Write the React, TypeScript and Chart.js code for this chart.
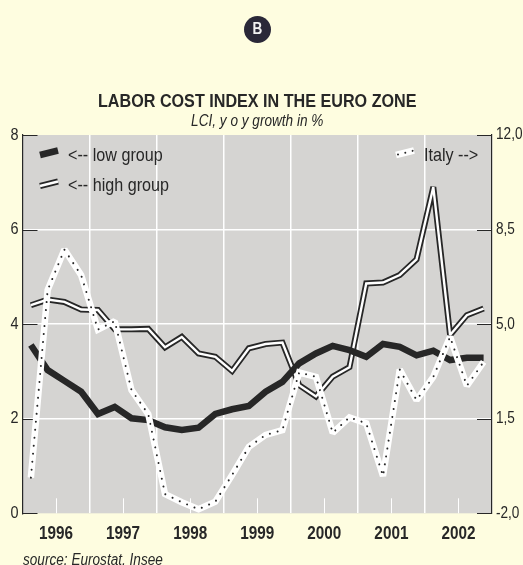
import React, { useEffect, useRef } from "react";
import { Chart, registerables } from "chart.js";

Chart.register(...registerables);

const quarters = ["96Q1","96Q2","96Q3","96Q4","97Q1","97Q2","97Q3","97Q4","98Q1","98Q2","98Q3","98Q4","99Q1","99Q2","99Q3","99Q4","00Q1","00Q2","00Q3","00Q4","01Q1","01Q2","01Q3","01Q4","02Q1","02Q2","02Q3","02Q4"];
const years = ["1996","1997","1998","1999","2000","2001","2002"];
const lowGroup = [3.56,3.03,2.80,2.57,2.10,2.25,2.01,1.97,1.82,1.76,1.81,2.10,2.20,2.27,2.57,2.78,3.17,3.38,3.54,3.45,3.31,3.58,3.52,3.34,3.44,3.24,3.29,3.29];
const highGroup = [4.40,4.52,4.47,4.31,4.30,3.89,3.89,3.90,3.51,3.73,3.38,3.31,3.01,3.49,3.58,3.61,2.71,2.47,2.89,3.09,4.86,4.88,5.04,5.37,6.90,3.77,4.19,4.33];
const italy = [-0.68,6.26,7.76,6.81,4.80,5.11,2.56,1.67,-1.29,-1.59,-1.85,-1.57,-0.58,0.46,0.90,1.08,3.21,3.05,0.98,1.55,1.33,-0.62,3.32,2.19,3.05,4.53,2.72,3.60];

const NARROW = '"Liberation Sans", Arial, sans-serif';
const TEXT_SQUEEZE = 0.85;
const DARK = "#272727";
const BG = "#FEFDE0";
const PLOT = "#D5D4D2";

// The reference is set in a condensed face that is not installed: squeeze all text horizontally.
function condense(ctx: any) {
  if (ctx.__condensed) return;
  ctx.__condensed = true;
  const orig = ctx.fillText.bind(ctx);
  ctx.fillText = (t: string, x: number, y: number, maxWidth?: number) => {
    ctx.save();
    ctx.translate(x, y);
    ctx.scale(TEXT_SQUEEZE, 1);
    if (maxWidth === undefined) orig(t, 0, 0);
    else orig(t, 0, 0, maxWidth / TEXT_SQUEEZE);
    ctx.restore();
  };
}

const decor = {
  id: "decor",
  beforeDraw(chart: any) {
    const { ctx, chartArea: a } = chart;
    ctx.miterLimit = 1.6;
    ctx.save();
    ctx.fillStyle = PLOT;
    ctx.fillRect(a.left, a.top, a.right - a.left, a.bottom - a.top);
    ctx.restore();
  },
  beforeDatasetsDraw(chart: any) {
    const { ctx, chartArea: a, scales } = chart;
    ctx.save();
    ctx.strokeStyle = "#FFFFFF";
    ctx.lineWidth = 1;
    years.forEach((_, i) => {
      const x = Math.round(scales.xYears.getPixelForTick(i)) + 0.5;
      ctx.beginPath();
      ctx.moveTo(x, a.bottom - 15);
      ctx.lineTo(x, a.bottom);
      ctx.stroke();
    });
    ctx.strokeStyle = DARK;
    ctx.lineWidth = 1;
    scales.yL.ticks.forEach((t: any) => {
      const y = Math.round(scales.yL.getPixelForValue(t.value)) + 0.5;
      ctx.beginPath();
      ctx.moveTo(a.left, y);
      ctx.lineTo(a.left + 15, y);
      ctx.stroke();
    });
    scales.yR.ticks.forEach((t: any) => {
      const y = Math.round(scales.yR.getPixelForValue(t.value)) + 0.5;
      ctx.beginPath();
      ctx.moveTo(a.right - 15, y);
      ctx.lineTo(a.right, y);
      ctx.stroke();
    });
    ctx.restore();
  },
  afterDraw(chart: any) {
    const { ctx } = chart;
    ctx.save();
    // badge
    ctx.fillStyle = "#2A2838";
    ctx.beginPath();
    ctx.arc(257.5, 29.5, 13.5, 0, Math.PI * 2);
    ctx.fill();
    ctx.fillStyle = "#F2F2F2";
    ctx.font = `bold 16px "Liberation Sans", Arial, sans-serif`;
    ctx.textAlign = "center";
    ctx.textBaseline = "middle";
    ctx.fillText("B", 257.5, 30);

    // legend swatches
    const seg = (x0: number, y0: number, x1: number, y1: number, color: string, w: number, dash?: number[], cap: CanvasLineCap = "butt") => {
      ctx.strokeStyle = color;
      ctx.lineWidth = w;
      ctx.setLineDash(dash || []);
      ctx.lineCap = cap;
      ctx.beginPath();
      ctx.moveTo(x0, y0);
      ctx.lineTo(x1, y1);
      ctx.stroke();
      ctx.setLineDash([]);
    };
    seg(40, 155, 58, 150.5, DARK, 6.5);
    seg(40, 186, 58, 181.5, DARK, 6);
    seg(40, 186, 58, 181.5, "#FFFFFF", 2.4);
    seg(396, 155, 414, 150.5, "#FFFFFF", 6.5);
    seg(398, 154.5, 414, 150.5, DARK, 2, [0.01, 7.5], "round");

    // legend text
    ctx.fillStyle = DARK;
    ctx.textAlign = "left";
    ctx.textBaseline = "alphabetic";
    ctx.font = `19px ${NARROW}`;
    ctx.fillText("<-- low group", 68, 161);
    ctx.fillText("<-- high group", 68, 191);
    ctx.fillText("Italy -->", 424, 161);

    // source
    ctx.font = `italic 16px ${NARROW}`;
    ctx.fillText("source: Eurostat, Insee", 23, 565);
    ctx.restore();
  },
};

export default function App() {
  const ref = useRef<HTMLCanvasElement | null>(null);
  useEffect(() => {
    if (!ref.current) return;
    condense(ref.current.getContext("2d"));
    const line = (label: string, data: number[], yAxisID: string, color: string, width: number, dash?: number[], order = 0, cap: string = "butt") => ({
      label, data, yAxisID, xAxisID: "x",
      borderColor: color, borderWidth: width, borderDash: dash || [],
      borderJoinStyle: "miter" as const, borderCapStyle: cap,
      pointRadius: 0, tension: 0, fill: false, order,
    });
    const chart = new Chart(ref.current, {
      type: "line",
      data: {
        labels: quarters,
        datasets: [
          line("Italy", italy, "yR", DARK, 2, [0.01, 8], 1, "round"),
          line("Italy halo", italy, "yR", "#FFFFFF", 6.5, undefined, 2),
          line("low group", lowGroup, "yL", DARK, 6.5, undefined, 3),
          line("high group core", highGroup, "yL", "#FFFFFF", 2.4, undefined, 4),
          line("high group", highGroup, "yL", DARK, 6, undefined, 5),
        ],
      },
      plugins: [decor],
      options: {
        responsive: false,
        animation: false,
        maintainAspectRatio: false,
        layout: { padding: 0 },
        plugins: {
          legend: { display: false },
          tooltip: { enabled: false },
          title: {
            display: true,
            text: "LABOR COST INDEX IN THE EURO ZONE",
            color: DARK,
            fullSize: false,
            font: { family: NARROW, size: 19, weight: "bold", lineHeight: 1 },
            padding: { top: 92, bottom: 3 },
          },
          subtitle: {
            display: true,
            text: "LCI, y o y growth in %",
            color: DARK,
            fullSize: false,
            font: { family: NARROW, size: 16, style: "italic", lineHeight: 1 },
            padding: { top: 0, bottom: 5 },
          },
        },
        scales: {
          x: { type: "category", display: false, offset: true, grid: { display: false } },
          xYears: {
            type: "category",
            labels: years,
            position: "bottom",
            offset: true,
            afterFit: (s: any) => { s.height = 51.7; },
            border: { display: false },
            grid: {
              offset: true,
              drawTicks: false,
              color: (c: any) => (c.index === 0 || c.index === years.length ? "rgba(0,0,0,0)" : "#FFFFFF"),
              lineWidth: 1.5,
            },
            ticks: {
              color: DARK,
              font: { family: NARROW, size: 18, weight: "bold" },
              padding: 10,
              maxRotation: 0,
              autoSkip: false,
            },
          },
          yL: {
            type: "linear",
            position: "left",
            min: 0,
            max: 8,
            afterFit: (s: any) => { s.width = 22.5; },
            border: { color: DARK, width: 1.2 },
            grid: {
              drawTicks: false,
              color: (c: any) => (c.tick.value === 0 || c.tick.value === 8 ? "rgba(0,0,0,0)" : "#FFFFFF"),
              lineWidth: 1.5,
            },
            ticks: { stepSize: 2, color: DARK, font: { family: NARROW, size: 17 }, padding: 4 },
          },
          yR: {
            type: "linear",
            position: "right",
            min: -2,
            max: 12,
            afterFit: (s: any) => { s.width = 31; },
            border: { color: DARK, width: 1.2 },
            grid: { display: false, drawTicks: false },
            ticks: {
              stepSize: 3.5,
              color: DARK,
              font: { family: NARROW, size: 16 },
              padding: 4,
              callback: (v: any) => Number(v).toFixed(1).replace(".", ","),
            },
          },
        },
      },
    } as any);
    return () => chart.destroy();
  }, []);
  return (
    <div style={{ position: "fixed", left: 0, top: 0, width: 523, height: 565, background: BG, overflow: "hidden" }}>
      <canvas ref={ref} width={523} height={565} style={{ display: "block" }} />
    </div>
  );
}
